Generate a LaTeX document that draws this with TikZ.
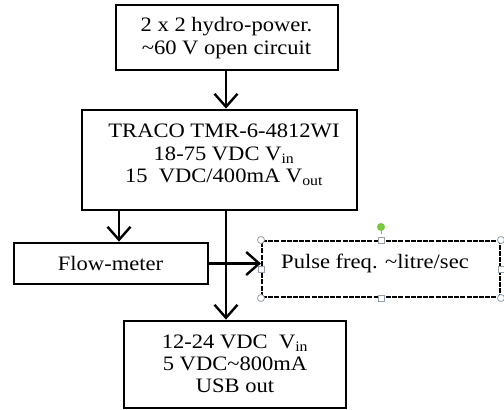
\documentclass[tikz,border=0pt]{standalone}
\usepackage{fontspec}
\setmainfont[FakeStretch=1.1]{Liberation Serif}
\usetikzlibrary{arrows.meta}
\newcommand{\diagfont}{\fontsize{20.5pt}{22.3pt}\selectfont}
\definecolor{handlegray}{RGB}{150,160,170}
\definecolor{rotgreen}{RGB}{120,200,60}
\begin{document}
\begin{tikzpicture}[x=1pt,y=-1pt,
  box/.style={draw, line width=2.8pt, rectangle, inner sep=0pt},
  dbox/.style={draw, line width=2pt, rectangle, inner sep=0pt, dash pattern=on 5pt off 1.2pt},
  txt/.style={align=center, font=\diagfont, inner sep=0pt},
  arr/.style={line width=2.6pt, -{Straight Barb[length=13pt,width=23pt,line width=2.4pt]}},
  hcirc/.style={circle, draw=handlegray, fill=white, line width=0.8pt, minimum size=7pt, inner sep=0pt},
  hsq/.style={rectangle, draw=handlegray, fill=white, line width=0.8pt, minimum size=6pt, inner sep=0pt},
]
\useasboundingbox (0,0) rectangle (504,410);
\fill[white] (0,0) rectangle (504,410);

% boxes
\node[box, minimum width=222pt, minimum height=65pt] (b1) at (227,37.5) {};
\node[box, minimum width=275pt, minimum height=100pt] (b2) at (219.5,160) {};
\node[box, minimum width=194pt, minimum height=41pt] (fm) at (111,263.5) {};
\node[dbox, minimum width=238pt, minimum height=56pt] (pl) at (381,269) {};
\node[box, minimum width=222pt, minimum height=87pt] (b3) at (235,364.5) {};

% texts
\node[txt] (t1) at (226.5,38) {2 x 2 hydro-power.\\\textasciitilde60 V open circuit};
\node[txt] (t2) at (224,155) {TRACO TMR-6-4812WI\\18-75 VDC V\textsubscript{in}\\15\ \ VDC/400mA V\textsubscript{out}};
\node[txt] (t3) at (110.5,263) {Flow-meter};
\node[txt] (t4) at (375,263) {Pulse freq. \textasciitilde litre/sec};
\node[txt] (t5) at (235,364) {12-24 VDC\ \ V\textsubscript{in}\\5 VDC\textasciitilde800mA\\USB out};

% connector columns
\coordinate (vx) at (226,0);
\coordinate (lx) at (119,0);

\draw[arr] (b1.south -| vx) -- (b2.north -| vx);
\draw[arr] (b2.south -| lx) -- (fm.north -| lx);
\draw[arr] (fm.east) -- (pl.west |- fm.east);
\draw[arr] (b2.south -| vx) -- (b3.north -| vx);

% selection handles
\node[circle, fill=rotgreen, minimum size=8pt, inner sep=0pt] (rot) at (381,227) {};
\draw[handlegray, line width=0.7pt, dashed] (rot) -- (pl.north);
\node[hcirc] (h1) at (pl.north west) {};
\node[hcirc] (h2) at (pl.north east) {};
\node[hcirc] (h3) at (pl.south west) {};
\node[hcirc] (h4) at (pl.south east) {};
\node[hsq] (h5) at (pl.north) {};
\node[hsq] (h6) at (pl.south) {};
\node[hsq] (h7) at (pl.west) {};
\node[hsq] (h8) at (pl.east) {};
\end{tikzpicture}
\end{document}
